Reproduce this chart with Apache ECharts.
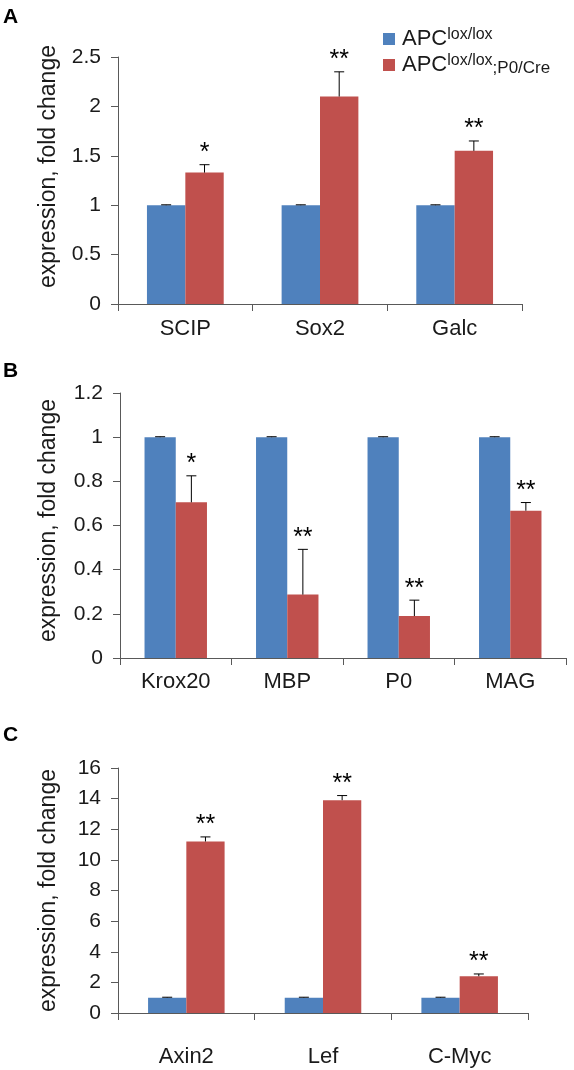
<!DOCTYPE html>
<html>
<head>
<meta charset="utf-8">
<script src="https://cdn.jsdelivr.net/npm/echarts@6/dist/echarts.min.js"></script>
<style>html,body{margin:0;padding:0;background:#fff;}#c{width:574px;height:1070px;}</style>
</head>
<body>
<div id="c"></div>
<script>
// ---- data ----
const seriesNames = ['APC lox/lox', 'APC lox/lox;P0/Cre'];

const catsA = ['SCIP', 'Sox2', 'Galc'];
const ctrlA = [1, 1, 1];
const ctrlErrA = [0.004, 0.004, 0.004];
const apcA = [1.33, 2.10, 1.55];
const apcErrA = [0.08, 0.25, 0.10];
const sigA = ['*', '**', '**'];

const catsB = ['Krox20', 'MBP', 'P0', 'MAG'];
const ctrlB = [1, 1, 1, 1];
const ctrlErrB = [0.002, 0.002, 0.002, 0.002];
const apcB = [0.705, 0.287, 0.19, 0.667];
const apcErrB = [0.12, 0.205, 0.072, 0.037];
const sigB = ['*', '**', '**', '**'];

const catsC = ['Axin2', 'Lef', 'C-Myc'];
const ctrlC = [1, 1, 1];
const ctrlErrC = [0.03, 0.03, 0.03];
const apcC = [11.2, 13.9, 2.4];
const apcErrC = [0.3, 0.3, 0.15];
const sigC = ['**', '**', '**'];

const ticksA = {min: 0, max: 2.5, interval: 0.5};
const ticksB = {min: 0, max: 1.2, interval: 0.2};
const ticksC = {min: 0, max: 16, interval: 2};

// ---- styling ----
const FONT = "'Liberation Sans', Arial, sans-serif";
const BLUE = '#4F81BD';
const RED = '#C0504D';
const AXIS = '#595959';
const TXT = '#1a1a1a';

const gaps = [0.43, 0.44, 0.44];

function errRender(sign, gapFrac, sig) {
  return function (params, api) {
    const ci = api.value(0), v = api.value(1), e = api.value(2);
    const base = api.coord([ci, v]);
    const top = api.coord([ci, v + e]);
    const cw = api.size([1, 0])[0];
    const bw = cw * (1 - gapFrac) / 2;
    const x = base[0] + sign * bw / 2;
    const st = {stroke: '#000', lineWidth: 1};
    const children = [
      {type: 'line', shape: {x1: x, y1: base[1], x2: x, y2: top[1]}, style: st},
      {type: 'line', shape: {x1: x - 5, y1: top[1], x2: x + 5, y2: top[1]}, style: st}
    ];
    if (sig) {
      children.push({type: 'text', x: x, y: top[1] + 1,
        style: {text: sig[params.dataIndex], fontSize: 25, fontFamily: FONT, fill: '#000',
          align: 'center', verticalAlign: 'bottom'}});
    }
    return {type: 'group', children: children};
  };
}

const panels = [
  {cats: catsA, ctrl: ctrlA, ctrlErr: ctrlErrA, apc: apcA, apcErr: apcErrA, sig: sigA, ticks: ticksA,
   grid: {left: 118, top: 57, width: 404, height: 247}, labelMargin: 14, namePad: [0, 0, 0, 28], nameGap: 58},
  {cats: catsB, ctrl: ctrlB, ctrlErr: ctrlErrB, apc: apcB, apcErr: apcErrB, sig: sigB, ticks: ticksB,
   grid: {left: 120, top: 393, width: 446, height: 265}, labelMargin: 13, namePad: [0, 0, 0, 10], nameGap: 60},
  {cats: catsC, ctrl: ctrlC, ctrlErr: ctrlErrC, apc: apcC, apcErr: apcErrC, sig: sigC, ticks: ticksC,
   grid: {left: 118, top: 768, width: 410, height: 245}, labelMargin: 33, namePad: [0, 0, 0, 0], nameGap: 58}
];

const grid = [], xAxis = [], yAxis = [], series = [];
panels.forEach((p, i) => {
  grid.push(Object.assign({containLabel: false}, p.grid));
  xAxis.push({
    type: 'category', gridIndex: i, data: p.cats,
    axisLine: {lineStyle: {color: AXIS, width: 1}},
    axisTick: {show: true, length: 7, lineStyle: {color: AXIS}},
    axisLabel: {fontSize: 22, fontFamily: FONT, color: TXT, margin: p.labelMargin},
    splitLine: {show: false}
  });
  yAxis.push({
    type: 'value', gridIndex: i, min: p.ticks.min, max: p.ticks.max, interval: p.ticks.interval,
    name: 'expression, fold change', nameLocation: 'middle', nameGap: p.nameGap,
    nameTextStyle: {fontSize: 23, fontFamily: FONT, color: TXT, padding: p.namePad},
    axisLine: {show: true, lineStyle: {color: AXIS, width: 1}},
    axisTick: {show: true, length: 7, lineStyle: {color: AXIS}},
    axisLabel: {fontSize: 21, fontFamily: FONT, color: TXT, margin: 17},
    splitLine: {show: false}
  });
  series.push({
    name: seriesNames[0], type: 'bar', xAxisIndex: i, yAxisIndex: i, data: p.ctrl,
    barGap: '0%', barCategoryGap: (gaps[i] * 100) + '%', itemStyle: {color: BLUE}, silent: true
  });
  series.push({
    name: seriesNames[1], type: 'bar', xAxisIndex: i, yAxisIndex: i, data: p.apc,
    barGap: '0%', barCategoryGap: (gaps[i] * 100) + '%', itemStyle: {color: RED}, silent: true
  });
  series.push({
    type: 'custom', xAxisIndex: i, yAxisIndex: i, z: 5, silent: true,
    renderItem: errRender(-1, gaps[i], null),
    encode: {x: 0, y: 1},
    data: p.cats.map((c, k) => [k, p.ctrl[k], p.ctrlErr[k]])
  });
  series.push({
    type: 'custom', xAxisIndex: i, yAxisIndex: i, z: 5, silent: true,
    renderItem: errRender(1, gaps[i], p.sig),
    encode: {x: 0, y: 1},
    data: p.cats.map((c, k) => [k, p.apc[k], p.apcErr[k]])
  });
});

const chart = echarts.init(document.getElementById('c'), null, {renderer: 'canvas'});
chart.setOption({
  animation: false,
  backgroundColor: '#fff',
  grid: grid, xAxis: xAxis, yAxis: yAxis, series: series,
  legend: {
    orient: 'vertical', left: 378, top: 22, itemWidth: 12, itemHeight: 12, itemGap: 3,
    icon: 'rect', selectedMode: false,
    data: seriesNames,
    formatter: function (name) {
      return name === seriesNames[0] ? '{a|APC}{s|lox/lox}' : '{a|APC}{s|lox/lox}{b|;P0/Cre}';
    },
    textStyle: {
      fontFamily: FONT, color: TXT, padding: [0, 0, 0, 2],
      rich: {
        a: {fontSize: 22, fontFamily: FONT, color: TXT, lineHeight: 24, verticalAlign: 'middle'},
        s: {fontSize: 16, fontFamily: FONT, color: TXT, lineHeight: 15, verticalAlign: 'top'},
        b: {fontSize: 17, fontFamily: FONT, color: TXT, lineHeight: 16, verticalAlign: 'bottom'}
      }
    }
  },
  graphic: [
    {type: 'text', left: 3, top: 7, style: {text: 'A', fontSize: 21, fontWeight: 'bold', fontFamily: FONT, fill: '#000'}},
    {type: 'text', left: 3, top: 361, style: {text: 'B', fontSize: 21, fontWeight: 'bold', fontFamily: FONT, fill: '#000'}},
    {type: 'text', left: 3, top: 725, style: {text: 'C', fontSize: 21, fontWeight: 'bold', fontFamily: FONT, fill: '#000'}}
  ]
});
</script>
</body>
</html>
